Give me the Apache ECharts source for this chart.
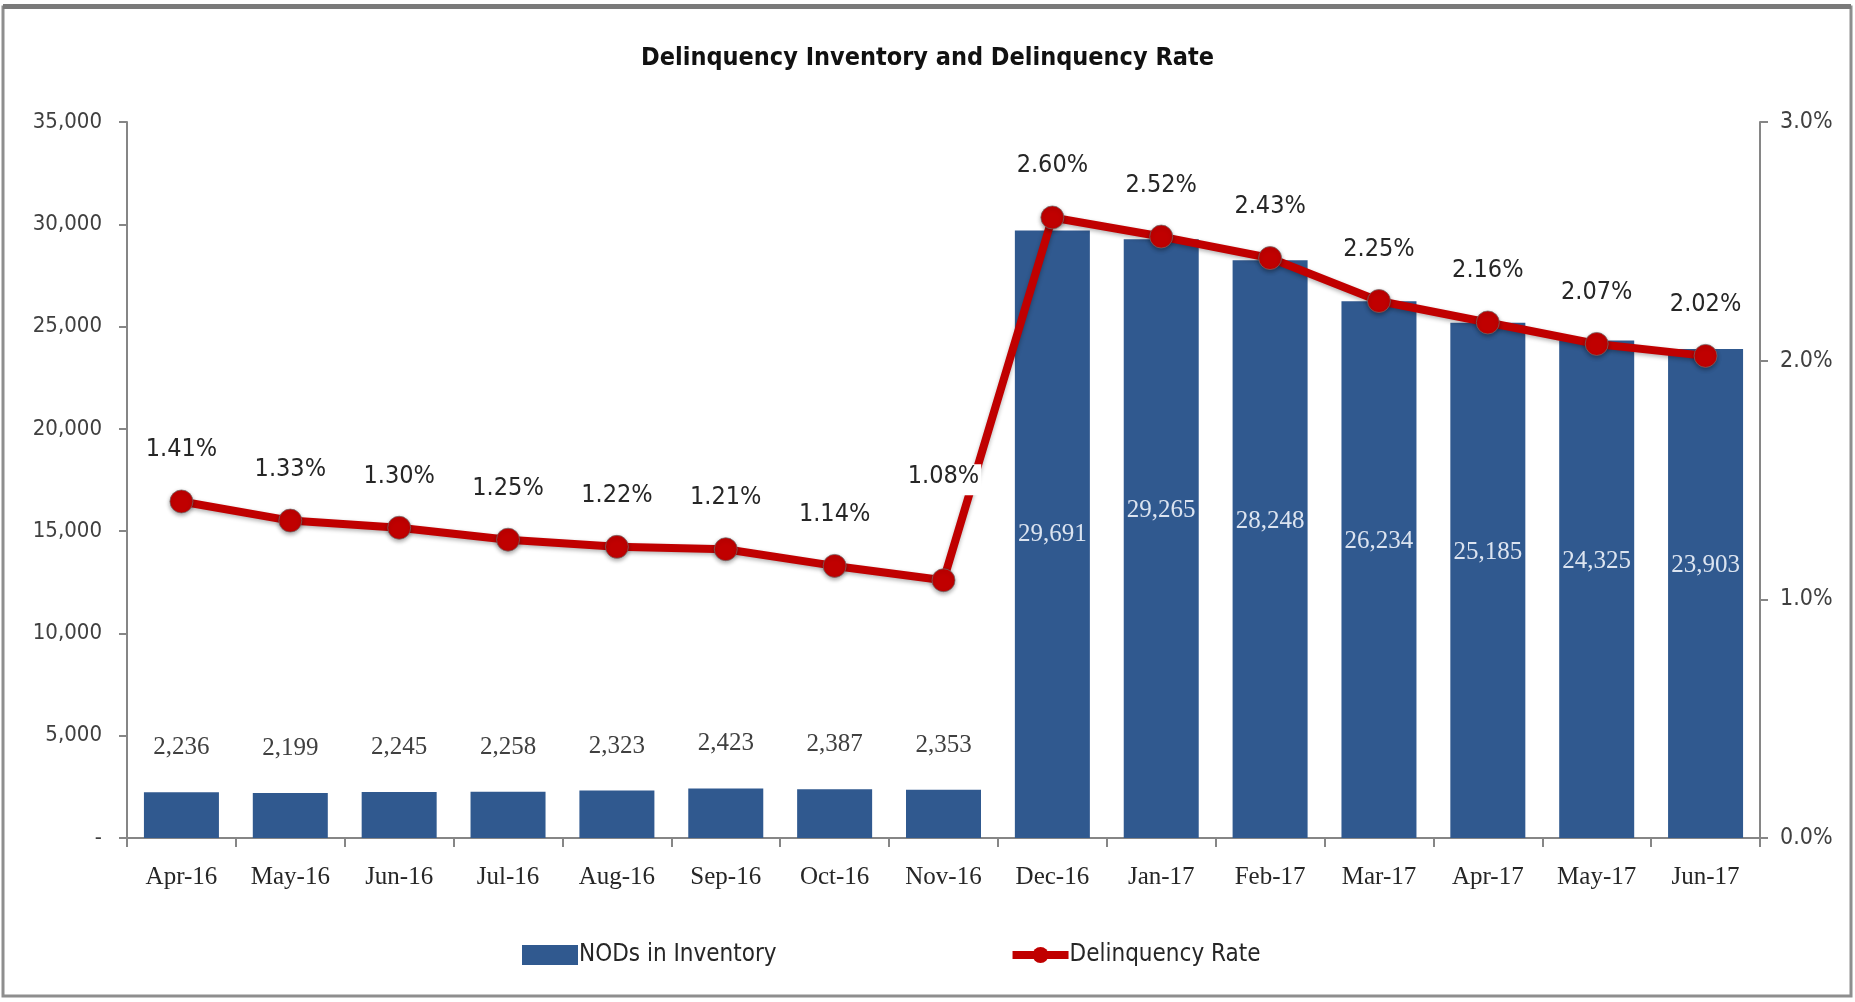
<!DOCTYPE html>
<html>
<head>
<meta charset="utf-8">
<script src="https://cdn.jsdelivr.net/npm/echarts@6/dist/echarts.min.js"></script>
<style>
  html, body { margin: 0; padding: 0; background: #fff; }
  #chart { width: 1855px; height: 1002px; }
</style>
</head>
<body>
<div id="chart"></div>
<script>
// data
const months = ['Apr-16', 'May-16', 'Jun-16', 'Jul-16', 'Aug-16', 'Sep-16', 'Oct-16', 'Nov-16',
    'Dec-16', 'Jan-17', 'Feb-17', 'Mar-17', 'Apr-17', 'May-17', 'Jun-17'];
const nodsInventory = [2236, 2199, 2245, 2258, 2323, 2423, 2387, 2353,
    29691, 29265, 28248, 26234, 25185, 24325, 23903];
const delinquencyRate = [1.41, 1.33, 1.30, 1.25, 1.22, 1.21, 1.14, 1.08,
    2.60, 2.52, 2.43, 2.25, 2.16, 2.07, 2.02];

const narrow = "'DejaVu Sans Condensed', 'Liberation Sans', sans-serif";
const serif = "'Liberation Serif', 'DejaVu Serif', serif";
const axisSans = "'DejaVu Sans Condensed', 'Liberation Sans', sans-serif";
const axisGray = '#868686';

const chart = echarts.init(document.getElementById('chart'));

// small bars get their number above, tall bars inside
const barData = nodsInventory.map(function (v, i) {
    if (v < 10000) {
        return { value: v, label: { show: true, position: 'top', distance: 32, color: '#404040' } };
    }
    return {
        value: v,
        label: { show: true, position: 'inside', offset: [0, i === 8 ? 0 : -28], color: '#dce4f0' }
    };
});

const lineData = delinquencyRate.map(function (v, i) {
    if (i === 7) {
        // Nov-16 label sits higher, clear of the rising line
        return { value: v, label: { offset: [0, -46], backgroundColor: '#fff', padding: [0, 2, 6, 2] } };
    }
    return v;
});

const option = {
    backgroundColor: '#fff',
    animation: false,
    graphic: [{
        type: 'rect',
        shape: { x: 3, y: 7, width: 1848, height: 989 },
        style: { fill: 'none', stroke: '#8e8e8e', lineWidth: 3 },
        silent: true
    }, {
        type: 'rect',
        shape: { x: 3, y: 4, width: 1848, height: 5 },
        style: { fill: '#7a7a7a' },
        silent: true
    }],
    title: {
        text: 'Delinquency Inventory and Delinquency Rate',
        left: 'center',
        top: 41,
        textStyle: { fontFamily: narrow, fontSize: 25, fontWeight: 'bold', color: '#111' }
    },
    legend: {
        left: 517,
        top: 938,
        itemGap: 232,
        itemWidth: 56,
        itemHeight: 20,
        textStyle: { fontFamily: narrow, fontSize: 24, color: '#262626', padding: [0, 0, 0, -4] },
        data: [
            { name: 'NODs in Inventory', icon: 'rect' },
            { name: 'Delinquency Rate', lineStyle: { width: 8 }, itemStyle: { borderWidth: 0 } }
        ]
    },
    grid: { left: 127, right: 95, top: 122, bottom: 164 },
    xAxis: {
        type: 'category',
        data: months,
        axisLine: { lineStyle: { color: axisGray, width: 2 } },
        axisTick: { show: true, length: 9, lineStyle: { color: axisGray, width: 2 } },
        axisLabel: { fontFamily: serif, fontSize: 25, color: '#262626', margin: 27 }
    },
    yAxis: [{
        type: 'value',
        min: 0,
        max: 35000,
        interval: 5000,
        splitLine: { show: false },
        axisLine: { show: true, lineStyle: { color: axisGray, width: 2 } },
        axisTick: { show: true, length: 8, lineStyle: { color: axisGray, width: 2 } },
        axisLabel: {
            fontFamily: axisSans, fontSize: 22, color: '#404040', margin: 25,
            formatter: function (v) { return v === 0 ? '-' : v.toLocaleString('en-US'); }
        }
    }, {
        type: 'value',
        min: 0,
        max: 3,
        interval: 1,
        splitLine: { show: false },
        axisLine: { show: true, lineStyle: { color: axisGray, width: 2 } },
        axisTick: { show: true, length: 8, lineStyle: { color: axisGray, width: 2 } },
        axisLabel: {
            fontFamily: axisSans, fontSize: 23, color: '#404040', margin: 20,
            formatter: function (v) { return v.toFixed(1) + '%'; }
        }
    }],
    series: [{
        name: 'NODs in Inventory',
        type: 'bar',
        yAxisIndex: 0,
        barWidth: 75,
        itemStyle: { color: '#30598f' },
        label: {
            fontFamily: serif, fontSize: 25,
            formatter: function (p) { return p.value.toLocaleString('en-US'); }
        },
        data: barData
    }, {
        name: 'Delinquency Rate',
        type: 'line',
        yAxisIndex: 1,
        symbol: 'circle',
        symbolSize: 23,
        z: 5,
        lineStyle: {
            color: '#c00000', width: 8,
            shadowColor: 'rgba(0,0,0,0.3)', shadowBlur: 4, shadowOffsetY: 2
        },
        itemStyle: {
            color: '#c00000', borderColor: 'rgba(110,110,110,0.7)', borderWidth: 1,
            shadowColor: 'rgba(0,0,0,0.35)', shadowBlur: 4, shadowOffsetY: 2
        },
        label: {
            show: true,
            position: 'top',
            distance: 27,
            fontFamily: narrow,
            fontSize: 25,
            color: '#262626',
            formatter: function (p) { return p.value.toFixed(2) + '%'; }
        },
        data: lineData
    }]
};
chart.setOption(option);
</script>
</body>
</html>
